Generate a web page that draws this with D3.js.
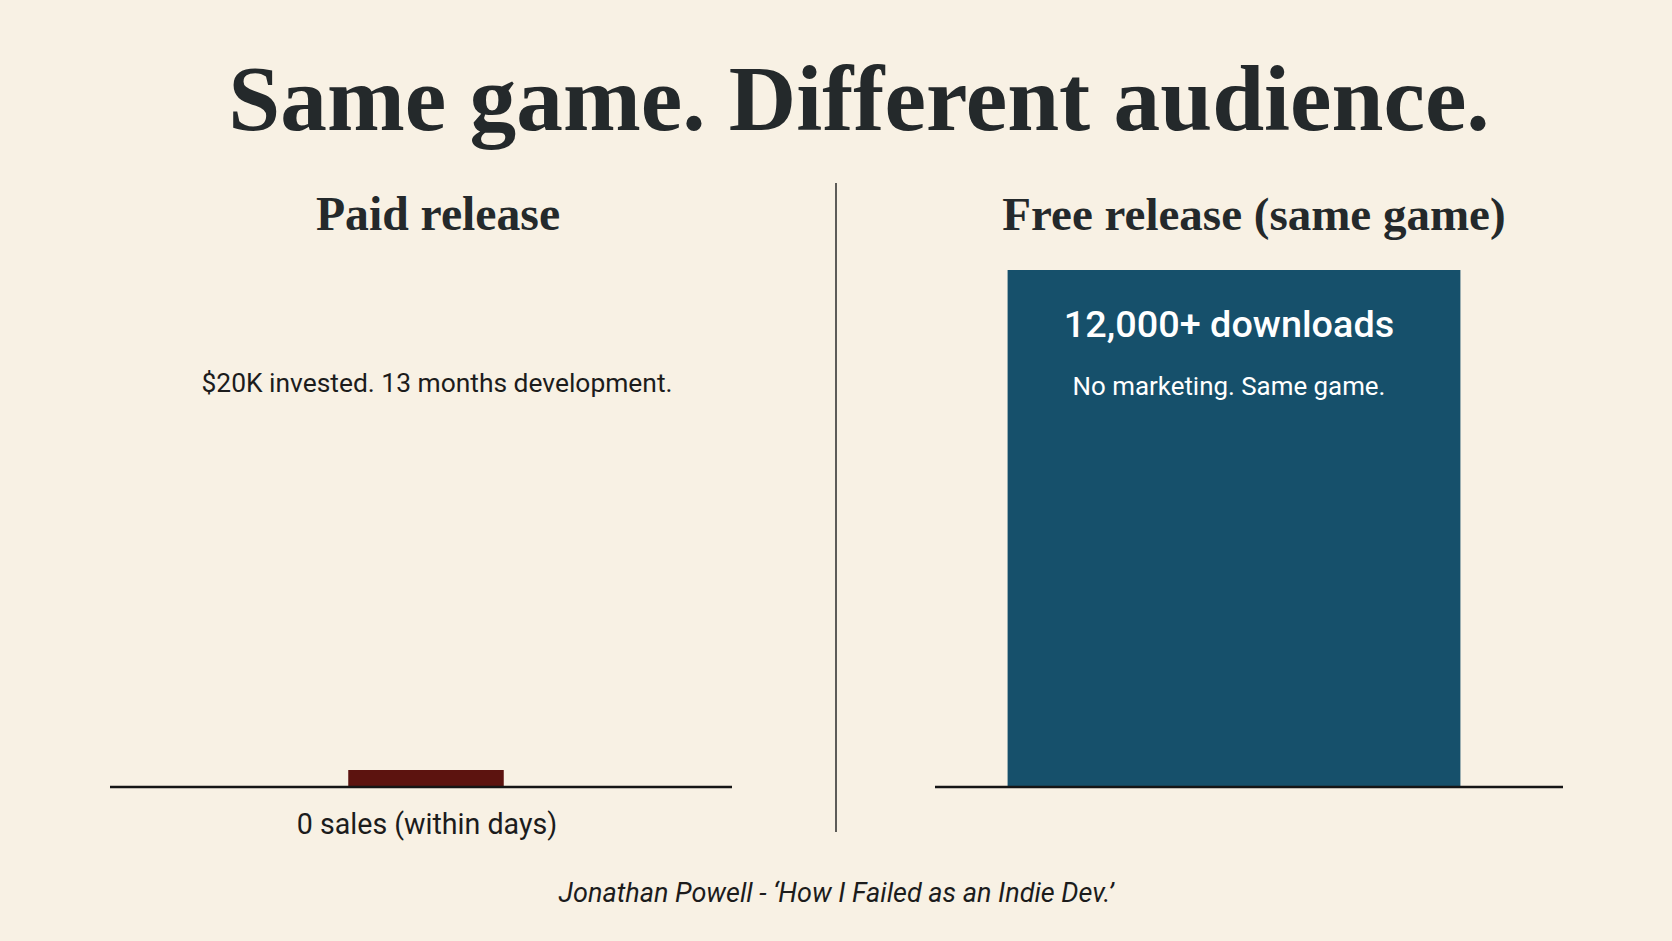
<!DOCTYPE html>
<html lang="en">
<head>
<meta charset="utf-8">
<title>Same game. Different audience.</title>
<style>
  html, body { margin: 0; padding: 0; background: #f8f1e4; }
  svg { display: block; }
  .serif { font-family: "Liberation Serif", "DejaVu Serif", serif; font-weight: bold; fill: #24292b; }
  .sans { font-family: Roboto, "Noto Sans", sans-serif; fill: #1c1c1c; }
</style>
<script src="https://cdn.jsdelivr.net/npm/d3@7"></script>
</head>
<body>
<svg id="chart" width="1672" height="941"></svg>
<script>
// data
const categories = ["Paid release", "Free release (same game)"];
const values = [0, 12000];
const valueLabels = ["0 sales (within days)", "12,000+ downloads"];
const notes = ["$20K invested. 13 months development.", "No marketing. Same game."];
const barColors = ["#5c130f", "#16506b"];
const title = "Same game. Different audience.";
const source = "Jonathan Powell - \u2018How I Failed as an Indie Dev.\u2019";

const W = 1672, H = 941;
const svg = d3.select("#chart");
svg.append("rect").attr("width", W).attr("height", H).attr("fill", "#f8f1e4");

// scales
const x = d3.scaleBand().domain(categories).range([110, 1563]).paddingInner(0.2515);
const y = d3.scaleLinear().domain([0, 12000]).range([787, 270]);
const barFrac = [0.25, 0.728];
const barShift = [5, -18];
const headShift = [17, 2];
const axisExtend = [0, 6];
const stub = 17; // visible marker for a zero bar

// shrink/grow font so text hits a target width
function fit(sel, width) {
  const size = parseFloat(sel.style("font-size"));
  const w = sel.node().getComputedTextLength();
  sel.style("font-size", (size * width / w).toFixed(1) + "px");
  return sel;
}

// title
fit(svg.append("text").attr("class", "serif")
  .attr("x", 859).attr("y", 130).attr("text-anchor", "middle")
  .style("font-size", "100px").text(title), 1261);

// divider
svg.append("line").attr("x1", 836).attr("x2", 836).attr("y1", 183).attr("y2", 832)
  .attr("stroke", "#2a2a2a").attr("stroke-width", 1.5);

const panel = svg.selectAll("g.panel")
  .data(categories.map((c, i) => ({c, v: values[i], i})))
  .join("g").attr("class", "panel");

// panel headings
panel.append("text").attr("class", "serif")
  .attr("x", d => x(d.c) + x.bandwidth() / 2 + headShift[d.i])
  .attr("y", 230).attr("text-anchor", "middle")
  .style("font-size", "48px").text(d => d.c)
  .each(function(d) { fit(d3.select(this), d.i === 0 ? 244 : 503); });

// bars
panel.append("rect")
  .attr("x", d => x(d.c) + x.bandwidth() * (1 - barFrac[d.i]) / 2 + barShift[d.i])
  .attr("width", d => x.bandwidth() * barFrac[d.i])
  .attr("y", d => Math.min(y(d.v), y(0) - stub))
  .attr("height", d => Math.max(y(0) - y(d.v), stub))
  .attr("fill", d => barColors[d.i]);

// baselines
panel.append("line")
  .attr("x1", d => x(d.c) - axisExtend[d.i]).attr("x2", d => x(d.c) + x.bandwidth())
  .attr("y1", y(0)).attr("y2", y(0))
  .attr("stroke", "#151515").attr("stroke-width", 2.5);

// left panel: note above, value label below the baseline
const left = panel.filter(d => d.i === 0);
fit(left.append("text").attr("class", "sans")
  .attr("x", 437).attr("y", 392).attr("text-anchor", "middle")
  .style("font-size", "26px").text(notes[0]), 471);
fit(left.append("text").attr("class", "sans")
  .attr("x", 427).attr("y", 834).attr("text-anchor", "middle")
  .style("font-size", "28px").text(valueLabels[0]), 260);

// right panel: labels inside the bar
const right = panel.filter(d => d.i === 1);
fit(right.append("text").attr("class", "sans")
  .attr("x", 1229).attr("y", 337).attr("text-anchor", "middle")
  .style("font-size", "36px").style("font-weight", 500).style("fill", "#ffffff")
  .text(valueLabels[1]), 330);
fit(right.append("text").attr("class", "sans")
  .attr("x", 1229).attr("y", 395).attr("text-anchor", "middle")
  .style("font-size", "26px").style("fill", "#ffffff")
  .text(notes[1]), 313);

// source
fit(svg.append("text").attr("class", "sans")
  .attr("x", 836).attr("y", 902).attr("text-anchor", "middle")
  .style("font-size", "26px").style("font-style", "italic")
  .text(source), 555);
</script>
</body>
</html>
